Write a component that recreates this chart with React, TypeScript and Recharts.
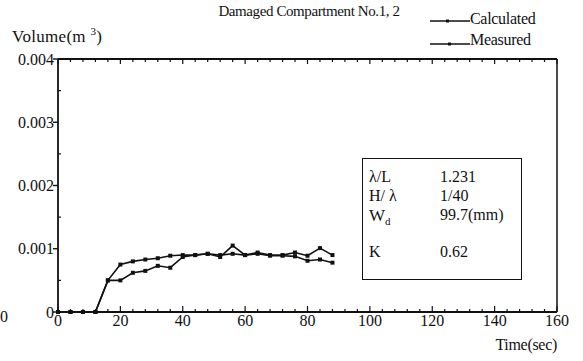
import React from 'react';
import { LineChart, Line, XAxis, YAxis } from 'recharts';

const times = [0, 4, 8, 12, 16, 20, 24, 28, 32, 36, 40, 44, 48, 52, 56, 60, 64, 68, 72, 76, 80, 84, 88];
const calculated = [0, 0, 0, 0, 0.0005, 0.00075, 0.0008, 0.00083, 0.00085, 0.00089, 0.0009, 0.0009, 0.00092, 0.0009, 0.00092, 0.0009, 0.00092, 0.00089, 0.00089, 0.00088, 0.00081, 0.00083, 0.00078];
const measured = [0, 0, 0, 0, 0.0005, 0.0005, 0.00062, 0.00065, 0.00073, 0.0007, 0.00087, 0.0009, 0.00092, 0.00087, 0.00105, 0.0009, 0.00094, 0.0009, 0.0009, 0.00094, 0.00089, 0.00101, 0.0009];

const xMajorTicks = [0, 20, 40, 60, 80, 100, 120, 140, 160];
const xAllTicks = Array.from({ length: 41 }, (_, i) => i * 4);
const yMajorTicks = [0, 0.001, 0.002, 0.003, 0.004];
const yAllTicks = [0, 0.0005, 0.001, 0.0015, 0.002, 0.0025, 0.003, 0.0035, 0.004];
const yTickLabels = ['0', '0.001', '0.002', '0.003', '0.004'];

const data = times.map((t, i) => ({ t, calc: calculated[i], meas: measured[i] }));

const FONT = '"Liberation Serif", "DejaVu Serif", serif';
const INK = '#111';

const isMajorX = (v: number) => xMajorTicks.includes(v);
const isMajorY = (v: number) => yMajorTicks.some((m) => Math.abs(m - v) < 1e-9);

const BottomTick = (props: any) => {
  const { x, y, payload } = props;
  const v = payload.value;
  const major = isMajorX(v);
  return (
    <g>
      <line x1={x} y1={y} x2={x} y2={y - (major ? 6 : 3)} stroke={INK} strokeWidth={1.2} />
      {major && (
        <text x={x} y={y + 3} dy="0.71em" textAnchor="middle" fontFamily={FONT} fontSize={16} fill={INK}>{v}</text>
      )}
    </g>
  );
};

const TopTick = (props: any) => {
  const { x, y, payload } = props;
  const major = isMajorX(payload.value);
  return <line x1={x} y1={y} x2={x} y2={y + (major ? 5 : 3)} stroke={INK} strokeWidth={1.2} />;
};

const LeftTick = (props: any) => {
  const { x, y, payload } = props;
  const v = payload.value;
  const major = isMajorY(v);
  const idx = yMajorTicks.findIndex((m) => Math.abs(m - v) < 1e-9);
  return (
    <g>
      {major ? (
        <line x1={x} y1={y} x2={x - 5} y2={y} stroke={INK} strokeWidth={1.4} />
      ) : (
        <line x1={x} y1={y} x2={x + 3} y2={y} stroke={INK} strokeWidth={1.2} />
      )}
      {major && (
        <text x={x - 4} y={y} dy="0.355em" textAnchor="end" fontFamily={FONT} fontSize={16} fill={INK}>{yTickLabels[idx]}</text>
      )}
    </g>
  );
};

const RightTick = (props: any) => {
  const { x, y, payload } = props;
  const major = isMajorY(payload.value);
  return <line x1={x} y1={y} x2={x - (major ? 5 : 3)} y2={y} stroke={INK} strokeWidth={1.2} />;
};

const SquareDot = (props: any) => {
  const { cx, cy, index } = props;
  if (cx == null || cy == null) return null;
  return <rect key={index} x={cx - 2} y={cy - 2} width={4} height={4} fill={INK} />;
};

export default function App() {
  return (
    <div style={{ position: 'absolute', left: 0, top: 0, width: 583, height: 361, background: '#fff', fontFamily: FONT, color: INK }}>
      <LineChart width={583} height={361} data={data} margin={{ top: 58, left: 57, right: 25, bottom: 48 }}>
        <XAxis xAxisId="bottom" dataKey="t" type="number" domain={[0, 160]} ticks={xAllTicks} orientation="bottom" height={1}
          tickSize={0} tickMargin={0} tickLine={false} interval={0} tick={BottomTick} axisLine={{ stroke: INK, strokeWidth: 1.8 }} />
        <XAxis xAxisId="top" dataKey="t" type="number" domain={[0, 160]} ticks={xAllTicks} orientation="top" height={1}
          tickSize={0} tickMargin={0} tickLine={false} interval={0} tick={TopTick} axisLine={{ stroke: INK, strokeWidth: 1.8 }} />
        <YAxis yAxisId="left" type="number" domain={[0, 0.004]} ticks={yAllTicks} orientation="left" width={1}
          tickSize={0} tickMargin={0} tickLine={false} interval={0} tick={LeftTick} axisLine={{ stroke: INK, strokeWidth: 1.8 }} />
        <YAxis yAxisId="right" type="number" domain={[0, 0.004]} ticks={yAllTicks} orientation="right" width={1}
          tickSize={0} tickMargin={0} tickLine={false} interval={0} tick={RightTick} axisLine={{ stroke: INK, strokeWidth: 1.5 }} />

        <Line xAxisId="bottom" yAxisId="left" type="linear" dataKey="calc" stroke={INK} strokeWidth={1.6} dot={SquareDot} isAnimationActive={false} />
        <Line xAxisId="bottom" yAxisId="left" type="linear" dataKey="meas" stroke={INK} strokeWidth={1.6} dot={SquareDot} isAnimationActive={false} />
      </LineChart>

      <div style={{ position: 'absolute', left: 0, width: 618, top: 3, textAlign: 'center', fontSize: 15, letterSpacing: -0.4 }}>Damaged Compartment No.1, 2</div>
      <div style={{ position: 'absolute', left: 12, top: 25, fontSize: 17, letterSpacing: 0.3 }}>Volume(m <sup style={{ fontSize: 11 }}>3</sup>)</div>
      <div style={{ position: 'absolute', left: 0, top: 308, fontSize: 16 }}>0</div>

      <svg style={{ position: 'absolute', left: 428, top: 12 }} width={44} height={40}>
        <line x1={2} y1={9} x2={42} y2={9} stroke={INK} strokeWidth={1.5} />
        <rect x={18} y={7.5} width={3} height={3} fill={INK} />
        <line x1={2} y1={32} x2={42} y2={32} stroke={INK} strokeWidth={1.5} />
        <rect x={20} y={30.5} width={3} height={3} fill={INK} />
      </svg>
      <div style={{ position: 'absolute', left: 470, top: 10, fontSize: 16, letterSpacing: -0.3 }}>Calculated</div>
      <div style={{ position: 'absolute', left: 470, top: 31, fontSize: 16, letterSpacing: -0.3 }}>Measured</div>

      <div style={{ position: 'absolute', left: 362, top: 158, width: 158, height: 120, border: '1.8px solid #111', background: '#fff' }}>
        <div style={{ position: 'absolute', left: 6, top: 9, fontSize: 16 }}>λ/L</div>
        <div style={{ position: 'absolute', left: 77, top: 9, fontSize: 16 }}>1.231</div>
        <div style={{ position: 'absolute', left: 6, top: 28, fontSize: 16 }}>H/ λ</div>
        <div style={{ position: 'absolute', left: 77, top: 28, fontSize: 16 }}>1/40</div>
        <div style={{ position: 'absolute', left: 6, top: 47, fontSize: 17 }}>W<sub style={{ fontSize: 11 }}>d</sub></div>
        <div style={{ position: 'absolute', left: 77, top: 47, fontSize: 16 }}>99.7(mm)</div>
        <div style={{ position: 'absolute', left: 6, top: 84, fontSize: 16 }}>K</div>
        <div style={{ position: 'absolute', left: 77, top: 84, fontSize: 16 }}>0.62</div>
      </div>

      <div style={{ position: 'absolute', right: 26, top: 336, fontSize: 16, letterSpacing: -0.3 }}>Time(sec)</div>
    </div>
  );
}
